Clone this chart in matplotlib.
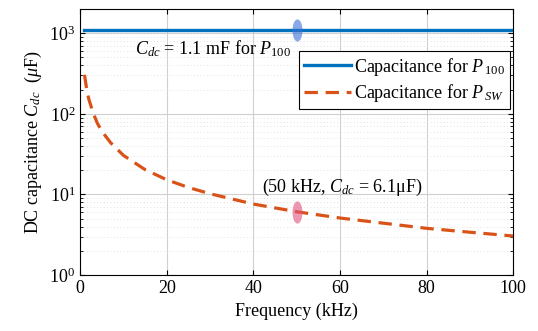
import matplotlib
matplotlib.use("Agg")
import matplotlib.pyplot as plt
from matplotlib.path import Path
from matplotlib.transforms import Affine2D
from matplotlib.markers import MarkerStyle

plt.rcParams["font.family"] = "Liberation Serif"
plt.rcParams["mathtext.fontset"] = "custom"
plt.rcParams["mathtext.rm"] = "Liberation Serif"
plt.rcParams["mathtext.it"] = "Liberation Serif:italic"
plt.rcParams["mathtext.bf"] = "Liberation Serif:bold"

# data
freq_p100 = [1, 100]
cap_p100 = [1100, 1100]
freq_sw = [1, 1.5, 2, 3, 4, 5, 7, 10, 15, 20, 25, 30, 40, 50, 60, 70, 80, 90, 100]
cap_sw = [305, 203, 152, 102, 76, 61, 44, 30.5, 20.3, 15.2, 12.2, 10.2, 7.6, 6.1, 5.1, 4.4, 3.8, 3.4, 3.05]
mark_f = [50, 50]
mark_c = [1100, 6.1]

BLUE = "#0072BD"; ORG = "#D95319"

ell = MarkerStyle(Path.unit_circle().transformed(Affine2D().scale(0.45, 1.0)))

fig = plt.figure(figsize=(5.38, 3.31), dpi=100)
ax = fig.add_axes([0.149, 0.169, 0.805, 0.804])

ax.semilogy(freq_p100, cap_p100, color=BLUE, lw=2.4, label="Capacitance for $P_{\\,\\mathit{100}}$", zorder=3)
ax.semilogy(freq_sw, cap_sw, color=ORG, lw=2.3, ls=(0, (4.2, 2.4)), label="Capacitance for $P_{\\,SW}$", zorder=3)
ax.plot(mark_f[0], mark_c[0], marker=ell, ms=16, color="#3b6fd6", alpha=0.6, mew=0, zorder=4)
ax.plot(mark_f[1], mark_c[1], marker=ell, ms=16, color="#e0507a", alpha=0.6, mew=0, zorder=4)

ax.set_xlim(0, 100)
ax.set_ylim(1, 2000)
ax.set_xticks([0, 20, 40, 60, 80, 100])
ax.grid(True, which="major", color="#d0d0d0", lw=0.8)
ax.grid(True, which="minor", color="#d8d8d8", lw=0.6, ls=(0, (1, 3)))
ax.tick_params(which="both", direction="in", top=True, right=True, labelsize=13)
ax.tick_params(which="minor", length=2)
for s in ax.spines.values():
    s.set_linewidth(0.8)

ax.set_xlabel("Frequency (kHz)", fontsize=13)
ax.set_ylabel("DC capacitance $C_{dc}$  ($\\mu$F)", fontsize=13)

ax.text(12.7, 650, "$C_{dc}$ = 1.1 mF for $P_{\\mathit{100}}$", fontsize=13, va="center", ha="left")
ax.text(42, 12.2, "(50 kHz, $C_{dc}$ = 6.1\u03bcF)", fontsize=13, va="center", ha="left")

leg = ax.legend(loc="upper right", bbox_to_anchor=(1.0, 0.855), fontsize=13, fancybox=False,
                framealpha=1, edgecolor="black", handlelength=2.6, borderpad=0.25,
                labelspacing=0.25, handletextpad=0.2, borderaxespad=0.2)
leg.get_frame().set_linewidth(0.8)

fig.savefig("out.png", dpi=100)
